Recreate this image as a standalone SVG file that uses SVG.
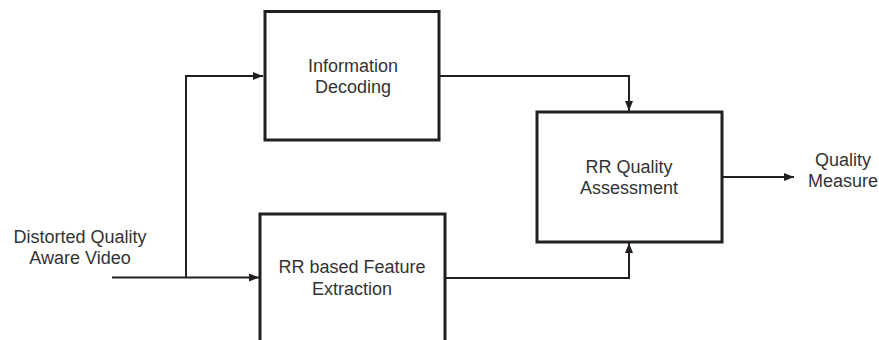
<svg xmlns="http://www.w3.org/2000/svg" width="879" height="340" viewBox="0 0 879 340">
<defs>
<marker id="arr" markerUnits="userSpaceOnUse" markerWidth="11" markerHeight="9" refX="10" refY="4" orient="auto">
<path d="M0,0 L10,4 L0,8 z" fill="#231f20"/>
</marker>
<style>
.box{fill:#fff;stroke:#231f20;stroke-width:3}
.conn{fill:none;stroke:#231f20;stroke-width:2}
.t{font-family:"Liberation Sans",Arial,sans-serif;font-size:18px;fill:#333;text-anchor:middle}
</style>
</defs>
<rect width="879" height="340" fill="#fff"/>
<g id="connectors">
<path class="conn" d="M112,277.5 H259" marker-end="url(#arr)"/>
<path class="conn" d="M186,277.5 V76 H263" marker-end="url(#arr)"/>
<path class="conn" d="M439,76 H629 V111" marker-end="url(#arr)"/>
<path class="conn" d="M445,278 H629 V243" marker-end="url(#arr)"/>
<path class="conn" d="M722,177 H794" marker-end="url(#arr)"/>
</g>
<g id="info-decoding">
<rect class="box" x="265" y="11.5" width="174" height="128.5"/>
<text class="t" x="353" y="72">Information</text>
<text class="t" x="353" y="93">Decoding</text>
</g>
<g id="feature-extraction">
<rect class="box" x="260" y="214" width="185" height="140"/>
<text class="t" x="352" y="273">RR based Feature</text>
<text class="t" x="352" y="295">Extraction</text>
</g>
<g id="quality-assessment">
<rect class="box" x="537" y="112" width="185" height="130"/>
<text class="t" x="629" y="173">RR Quality</text>
<text class="t" x="629" y="194">Assessment</text>
</g>
<g id="input-label">
<text class="t" x="80" y="243">Distorted Quality</text>
<text class="t" x="80" y="264">Aware Video</text>
</g>
<g id="output-label">
<text class="t" x="843" y="166">Quality</text>
<text class="t" x="843" y="187">Measure</text>
</g>
</svg>
